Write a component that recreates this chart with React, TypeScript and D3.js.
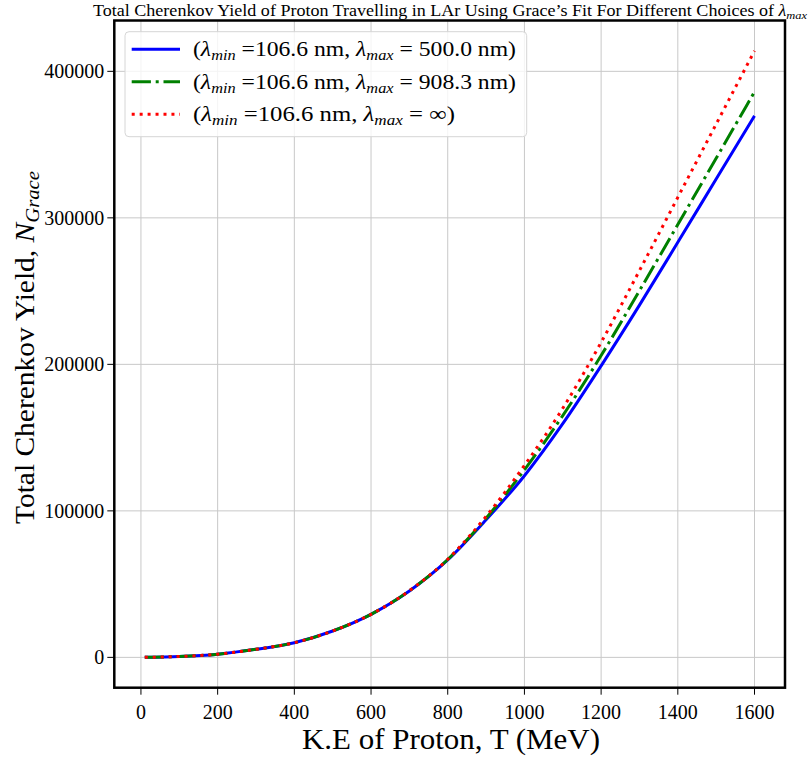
import React from "react";
import * as d3 from "d3";

const kineticEnergy = [10, 100, 200, 300, 400, 500, 600, 700, 800, 900, 1000, 1100, 1200, 1300, 1400, 1500, 1600];
const yield500 = [0, 600, 2200, 5500, 10000, 18000, 29400, 45300, 66500, 93900, 124000, 159500, 199000, 240400, 283300, 326500, 369600];
const yield908 = [0, 600, 2200, 5500, 10000, 18000, 29400, 45400, 66800, 95000, 128000, 165000, 206000, 250300, 295400, 340700, 386000];
const yieldInf = [0, 600, 2200, 5500, 10000, 18000, 29400, 45500, 67000, 96200, 131000, 170000, 215000, 264000, 314000, 364000, 414000];
const xTicks = [0, 200, 400, 600, 800, 1000, 1200, 1400, 1600];
const yTicks = [0, 100000, 200000, 300000, 400000];
const legendMaxLabels = ["500.0 nm", "908.3 nm", "∞"];

const FONT = "'Liberation Serif', 'DejaVu Serif', serif";

const series = [
  { values: yield500, color: "#0000ff", dash: "none", label: legendMaxLabels[0], len: 323 },
  { values: yield908, color: "#008000", dash: "19.2,4.8,3,4.8", label: legendMaxLabels[1], len: 323 },
  { values: yieldInf, color: "#ff0000", dash: "3,4.95", label: legendMaxLabels[2], len: 262 },
];

export default function App() {
  const W = 809, H = 757;
  const left = 114.3, right = 785, top = 20.5, bottom = 687.7;
  const x = d3.scaleLinear().domain([-69.5, 1679.5]).range([left, right]);
  const y = d3.scaleLinear().domain([-20700, 434700]).range([bottom, top]);

  const lineGen = (vals: number[]) =>
    d3
      .line<number>()
      .x((_, i) => x(kineticEnergy[i]))
      .y((d) => y(d))
      .curve(d3.curveMonotoneX)(vals) || "";

  const legendX = 125, legendY = 31.7, legendW = 401.7, legendH = 105;
  const rowY = [49.3, 81.7, 114.3];

  return (
    <svg
      width={W}
      height={H}
      style={{ position: "absolute", left: 0, top: 0, background: "#fff" }}
      fontFamily={FONT}
    >
      <rect x={0} y={0} width={W} height={H} fill="#fff" />
      {xTicks.map((t) => (
        <line key={"gx" + t} x1={x(t)} x2={x(t)} y1={top} y2={bottom} stroke="#c8c8c8" strokeWidth={1} />
      ))}
      {yTicks.map((t) => (
        <line key={"gy" + t} x1={left} x2={right} y1={y(t)} y2={y(t)} stroke="#c8c8c8" strokeWidth={1} />
      ))}
      <defs>
        <clipPath id="plotclip">
          <rect x={left} y={top} width={right - left} height={bottom - top} />
        </clipPath>
      </defs>
      <g clipPath="url(#plotclip)">
        {series.map((s, i) => (
          <path
            key={i}
            d={lineGen(s.values)}
            fill="none"
            stroke={s.color}
            strokeWidth={3}
            strokeDasharray={s.dash}
            strokeLinecap="butt"
          />
        ))}
      </g>
      <rect x={left} y={top} width={right - left} height={bottom - top} fill="none" stroke="#000" strokeWidth={2.5} />
      {xTicks.map((t) => (
        <g key={"xt" + t}>
          <line x1={x(t)} x2={x(t)} y1={bottom} y2={bottom + 7} stroke="#000" strokeWidth={1} />
          <text x={x(t)} y={bottom + 31} textAnchor="middle" fontSize={20} fill="#000">
            {t}
          </text>
        </g>
      ))}
      {yTicks.map((t) => (
        <g key={"yt" + t}>
          <line x1={left - 7} x2={left} y1={y(t)} y2={y(t)} stroke="#000" strokeWidth={1} />
          <text x={left - 10} y={y(t) + 7} textAnchor="end" fontSize={20} fill="#000">
            {t}
          </text>
        </g>
      ))}
      <text x={93} y={16} fontSize={16} fill="#000" textLength={714} lengthAdjust="spacingAndGlyphs">
        Total Cherenkov Yield of Proton Travelling in LAr Using Grace’s Fit For Different Choices of{" "}
        <tspan fontStyle="italic">λ</tspan>
        <tspan fontStyle="italic" fontSize={11} dy={3}>max</tspan>
      </text>
      <text x={302} y={749} fontSize={29} fill="#000" textLength={298} lengthAdjust="spacingAndGlyphs">
        K.E of Proton, T (MeV)
      </text>
      <text
        transform={`translate(34,524) rotate(-90)`}
        fontSize={27}
        fill="#000"
        textLength={353}
        lengthAdjust="spacingAndGlyphs"
      >
        Total Cherenkov Yield,{" "}
        <tspan fontStyle="italic">N</tspan>
        <tspan fontStyle="italic" fontSize={19} dy={5}>Grace</tspan>
      </text>
      <rect
        x={legendX}
        y={legendY}
        width={legendW}
        height={legendH}
        rx={4}
        fill="#fff"
        fillOpacity={0.8}
        stroke="#d6d6d6"
        strokeWidth={1}
      />
      {series.map((s, i) => (
        <g key={"lg" + i}>
          <line
            x1={131.7}
            x2={180}
            y1={rowY[i]}
            y2={rowY[i]}
            stroke={s.color}
            strokeWidth={3}
            strokeDasharray={s.dash}
          />
          <text x={193} y={rowY[i] + 7} fontSize={21} fill="#000" textLength={s.len} lengthAdjust="spacingAndGlyphs">
            (<tspan fontStyle="italic">λ</tspan>
            <tspan fontStyle="italic" fontSize={14.5} dy={4}>min</tspan>
            <tspan dy={-4}> =106.6 nm, </tspan>
            <tspan fontStyle="italic">λ</tspan>
            <tspan fontStyle="italic" fontSize={14.5} dy={4}>max</tspan>
            <tspan dy={-4}> = {s.label})</tspan>
          </text>
        </g>
      ))}
    </svg>
  );
}
